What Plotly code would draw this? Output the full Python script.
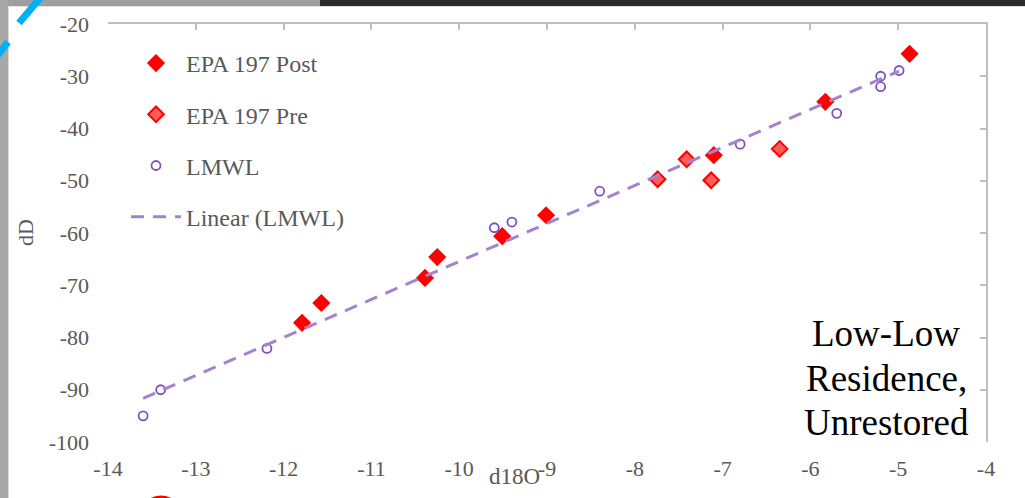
import numpy as np
import plotly.graph_objects as go

# ---- data ----
post_x = [-11.79, -11.57, -10.39, -10.25, -9.51, -9.01, -7.10, -5.83, -4.87]
post_y = [-77.2, -73.4, -68.6, -64.6, -60.6, -56.6, -45.1, -34.9, -25.7]

pre_x = [-7.74, -7.41, -7.13, -6.35]
pre_y = [-49.7, -45.9, -49.9, -43.9]

lmwl_x = [-13.60, -13.40, -12.19, -9.60, -9.40, -8.40, -6.80, -5.70, -5.20, -5.20, -4.99]
lmwl_y = [-95.0, -90.0, -82.1, -59.0, -57.9, -52.0, -43.0, -37.1, -32.0, -30.0, -28.9]

x_ticks = [-14, -13, -12, -11, -10, -9, -8, -7, -6, -5, -4]
x_ticklabels = ["-14", "-13", "-12", "-11", "-10", "-9", "-8", "-7", "-6", "-5", "-4"]
y_ticks = [-100, -90, -80, -70, -60, -50, -40, -30, -20]
y_ticklabels = ["-100", "-90", "-80", "-70", "-60", "-50", "-40", "-30", "-20"]

label_lines = ["Low-Low", "Residence,", "Unrestored"]

# linear trendline (least squares on LMWL)
slope, intercept = np.polyfit(lmwl_x, lmwl_y, 1)
trend_x = [min(lmwl_x), max(lmwl_x)]
trend_y = [slope * v + intercept for v in trend_x]

# ---- layout geometry ----
W, H = 1025, 498
ML, MR, MT, MB = 108, 39, 24, 56
PW, PH = W - ML - MR, H - MT - MB


def px(x):
    return (x - ML) / PW


def py(y):
    return 1 - (y - MT) / PH


FONT = "Liberation Serif, Times New Roman, serif"
GRAY = "#595959"
AX = "#BFBFBF"

fig = go.Figure()
fig.add_trace(go.Scatter(
    x=post_x, y=post_y, mode="markers", name="EPA 197 Post", legendgroup="a",
    marker=dict(symbol="diamond", size=14, color="#FF0000", line=dict(width=0))))
fig.add_trace(go.Scatter(
    x=pre_x, y=pre_y, mode="markers", name="EPA 197 Pre", legendgroup="b",
    marker=dict(symbol="diamond", size=12, color="#FF5C5C",
                line=dict(width=2, color="#FF0000"))))
fig.add_trace(go.Scatter(
    x=lmwl_x, y=lmwl_y, mode="markers", name="LMWL", legendgroup="c",
    marker=dict(symbol="circle-open", size=9, color="#8050C0",
                line=dict(width=1.8, color="#8050C0"))))
fig.add_trace(go.Scatter(
    x=trend_x, y=trend_y, mode="lines", name="Linear (LMWL)", legendgroup="d",
    line=dict(color="#A582D0", width=3, dash="13px,9px")))
# dummy trace for the top/right axis lines
fig.add_trace(go.Scatter(x=[], y=[], xaxis="x2", yaxis="y2", showlegend=False,
                         hoverinfo="skip"))

fig.update_layout(
    width=W, height=H,
    margin=dict(l=ML, r=MR, t=MT, b=MB),
    paper_bgcolor="white", plot_bgcolor="white",
    font=dict(family=FONT, color=GRAY, size=22),
    showlegend=True,
    legend=dict(x=px(126), y=py(41), xanchor="left", yanchor="top",
                bgcolor="rgba(0,0,0,0)", font=dict(family=FONT, size=24, color=GRAY),
                itemwidth=50, traceorder="grouped", tracegroupgap=17),
    xaxis=dict(range=[-14, -4], tickvals=x_ticks, ticktext=x_ticklabels,
               showgrid=False, zeroline=False, showline=False, ticks="",
               ticklabelstandoff=11, tickfont=dict(family=FONT, size=22, color=GRAY)),
    yaxis=dict(range=[-100, -20], tickvals=y_ticks, ticktext=y_ticklabels,
               showgrid=False, zeroline=False, showline=False, ticks="",
               ticklabelstandoff=18, tickfont=dict(family=FONT, size=22, color=GRAY)),
    xaxis2=dict(overlaying="x", side="top", range=[-14, -4], tickvals=x_ticks,
                showticklabels=False, showgrid=False, zeroline=False,
                showline=True, linecolor=AX, linewidth=2,
                ticks="inside", ticklen=6, tickwidth=2, tickcolor=AX),
    yaxis2=dict(overlaying="y", side="right", range=[-100, -20], tickvals=y_ticks,
                showticklabels=False, showgrid=False, zeroline=False,
                showline=True, linecolor=AX, linewidth=2,
                ticks="inside", ticklen=6, tickwidth=2, tickcolor=AX),
)

# axis titles and label
fig.add_annotation(text="dD", x=px(25), y=py(233), xref="paper", yref="paper",
                   xanchor="center", yanchor="middle",
                   textangle=-90, showarrow=False,
                   font=dict(family=FONT, size=22, color=GRAY))
fig.add_annotation(text="d18O", x=px(514), y=py(476), xref="paper", yref="paper",
                   xanchor="center", yanchor="middle",
                   showarrow=False, font=dict(family=FONT, size=23, color=GRAY))
for line_text, yc in zip(label_lines, [333, 378, 422]):
    fig.add_annotation(text=line_text, x=px(886), y=py(yc),
                       xref="paper", yref="paper", xanchor="center", yanchor="middle",
                       showarrow=False,
                       font=dict(family=FONT, size=37, color="#000000"))

# slide surroundings (screenshot decorations)
P = dict(xref="paper", yref="paper")
shapes = [
    dict(type="rect", x0=px(0), x1=px(320), y0=py(0), y1=py(6), fillcolor="#9E9E9E",
         line=dict(width=0), layer="above", **P),
    dict(type="rect", x0=px(320), x1=px(W), y0=py(0), y1=py(6), fillcolor="#2B2B2B",
         line=dict(width=0), layer="above", **P),
    dict(type="rect", x0=px(0), x1=px(8), y0=py(0), y1=py(H), fillcolor="#A8A8A8",
         line=dict(width=0), layer="above", **P),
    dict(type="line", x0=px(8.5), x1=px(8.5), y0=py(6), y1=py(H),
         line=dict(color="#D9D9D9", width=1), **P),
    dict(type="line", x0=px(8), x1=px(W), y0=py(6.5), y1=py(6.5),
         line=dict(color="#E0E0E0", width=1), **P),
    dict(type="line", x0=px(19), x1=px(41), y0=py(23), y1=py(-3),
         line=dict(color="#00B0F0", width=7), **P),
    dict(type="line", x0=px(-3), x1=px(8), y0=py(56), y1=py(42),
         line=dict(color="#00B0F0", width=7), **P),
    dict(type="circle", x0=px(137), x1=px(185), y0=py(495.5), y1=py(545), fillcolor="#FF0000",
         line=dict(width=0), **P),
]
fig.update_layout(shapes=shapes)

fig.write_html("out.html")
